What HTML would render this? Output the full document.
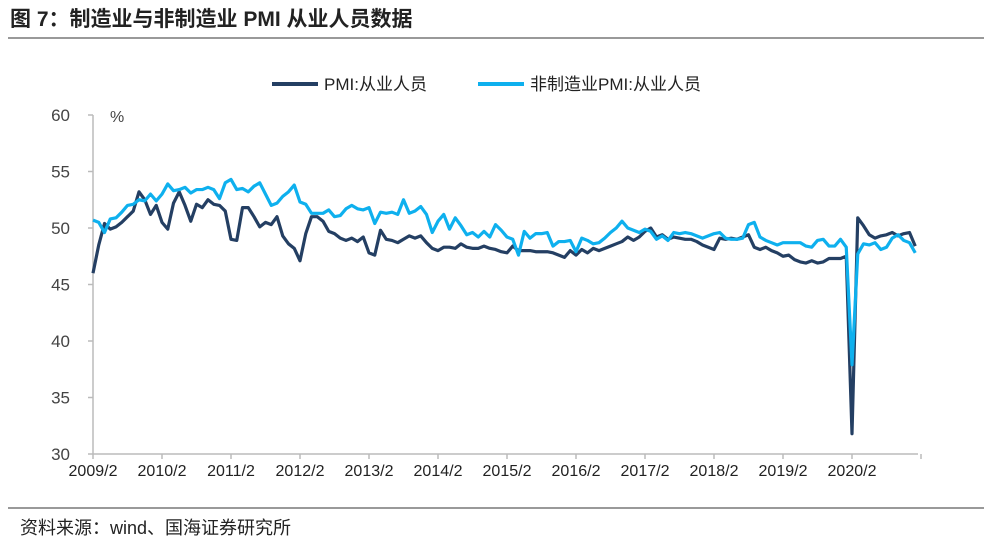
<!DOCTYPE html>
<html><head><meta charset="utf-8"><style>
body{margin:0;background:#fff;width:994px;height:543px;overflow:hidden;font-family:"Liberation Sans","Noto Sans CJK SC",sans-serif}
</style></head><body>
<svg width="994" height="543" xmlns="http://www.w3.org/2000/svg">
<text x="10" y="26" font-size="21" font-weight="bold" fill="#222" font-family="Liberation Sans,Noto Sans CJK SC,sans-serif">图 7：制造业与非制造业 PMI 从业人员数据</text>
<line x1="8" y1="38" x2="984" y2="38" stroke="#333" stroke-width="1"/>
<line x1="8" y1="508" x2="984" y2="508" stroke="#333" stroke-width="1"/>
<text x="20" y="534" font-size="18" fill="#222">资料来源：wind、国海证券研究所</text>
<g>
<line x1="272" y1="84" x2="318" y2="84" stroke="#243f63" stroke-width="4"/>
<text x="324" y="90" font-size="17" fill="#222">PMI:从业人员</text>
<line x1="478" y1="84" x2="524" y2="84" stroke="#0eb0ee" stroke-width="4"/>
<text x="530" y="90" font-size="17" fill="#222">非制造业PMI:从业人员</text>
</g>
<text x="110" y="122" font-size="16" fill="#444">%</text>
<g id="axes"></g>
<g id="series"></g>
</svg>
<script>
const yTicks=[30,35,40,45,50,55,60];
const xLabels=["2009/2","2010/2","2011/2","2012/2","2013/2","2014/2","2015/2","2016/2","2017/2","2018/2","2019/2","2020/2"];
const manufacturing=[46.0,48.5,50.4,49.9,50.1,50.5,51.0,51.5,53.2,52.5,51.2,52.0,
50.5,49.9,52.2,53.2,52.0,50.6,52.1,51.8,52.5,52.1,52.0,51.5,
49.0,48.9,51.8,51.8,51.0,50.1,50.5,50.3,51.0,49.3,48.6,48.2,
47.1,49.5,51.0,51.0,50.6,49.7,49.5,49.1,48.9,49.1,48.8,49.2,
47.8,47.6,49.8,49.0,48.9,48.7,49.0,49.3,49.1,49.3,48.7,48.2,
48.0,48.3,48.3,48.2,48.6,48.3,48.2,48.2,48.4,48.2,48.1,47.9,
47.8,48.4,48.0,48.0,48.0,47.9,47.9,47.9,47.8,47.6,47.4,48.0,
47.6,48.1,47.8,48.2,48.0,48.2,48.4,48.6,48.8,49.2,48.9,49.2,
49.7,50.0,49.2,49.4,49.0,49.2,49.1,49.0,49.0,48.8,48.5,48.3,
48.1,49.1,49.0,49.1,49.0,49.2,49.4,48.3,48.1,48.3,48.0,47.8,
47.5,47.6,47.2,47.0,46.9,47.1,46.9,47.0,47.3,47.3,47.3,47.5,
31.8,50.9,50.2,49.4,49.1,49.3,49.4,49.6,49.3,49.5,49.6,48.4];
const nonManufacturing=[50.7,50.5,49.6,50.8,50.9,51.4,52.0,52.1,52.5,52.4,53.0,52.4,
53.0,53.9,53.3,53.4,53.6,53.1,53.4,53.4,53.6,53.4,52.6,54.0,
54.3,53.4,53.5,53.2,53.7,54.0,53.0,52.0,52.2,52.8,53.2,53.8,
52.3,52.1,51.3,51.3,51.3,51.6,51.0,51.1,51.7,52.0,51.7,51.6,
51.8,50.4,51.4,51.3,51.4,51.2,52.5,51.3,51.5,51.9,51.2,49.6,
50.6,51.2,49.9,50.9,50.2,49.4,49.6,49.2,49.7,49.2,50.3,49.8,
49.2,49.0,47.6,49.7,49.1,49.5,49.5,49.6,48.4,48.8,48.8,48.9,
47.9,49.1,48.9,48.6,48.7,49.1,49.6,50.0,50.6,50.0,49.8,49.6,
49.9,49.7,49.0,49.3,48.9,49.6,49.5,49.6,49.5,49.3,49.1,49.3,
49.5,49.6,49.1,49.0,49.0,49.1,50.3,50.5,49.2,48.9,48.7,48.5,
48.7,48.7,48.7,48.7,48.4,48.3,48.9,49.0,48.4,48.4,49.0,48.3,
37.9,47.7,48.6,48.5,48.7,48.1,48.3,49.1,49.4,48.9,48.7,47.8];
const NS="http://www.w3.org/2000/svg";
const X0=93,DX=5.75,Y0=454,PY=11.3;
function xs(i){return X0+i*DX;}
function ys(v){return Y0-(v-30)*PY;}
const axes=document.getElementById('axes'),series=document.getElementById('series');
function mk(tag,attrs,parent){const e=document.createElementNS(NS,tag);for(const k in attrs)e.setAttribute(k,attrs[k]);parent.appendChild(e);return e;}
let l=mk('line',{x1:X0,y1:ys(60),x2:X0,y2:Y0,stroke:'#bbb','stroke-width':1.5},axes);


l=mk('line',{x1:X0,y1:Y0,x2:918,y2:Y0,stroke:'#bbb','stroke-width':1.5},axes);


yTicks.forEach(v=>{
 const t=mk('line',{x1:X0-5,y1:ys(v),x2:X0,y2:ys(v),stroke:'#bbb','stroke-width':1.5},axes);
 
 
 const tx=mk('text',{x:70,y:ys(v)+6,'font-size':17,fill:'#444','text-anchor':'end'},axes);
 tx.textContent=v;
 
 
});
for(let i=0;i<=manufacturing.length;i+=12){
 const t=mk('line',{x1:xs(i),y1:Y0,x2:xs(i),y2:Y0+5,stroke:'#bbb','stroke-width':1.5},axes);
 
 
}
xLabels.forEach((s,k)=>{
 const tx=mk('text',{x:xs(k*12),y:Y0+22,'font-size':16,fill:'#222','text-anchor':'middle'},axes);
 tx.textContent=s;
 
 
});
function line(data,color,name){
 const p=mk('polyline',{points:data.map((v,i)=>xs(i)+','+ys(v)).join(' '),fill:'none',stroke:color,'stroke-width':3.2,'stroke-linejoin':'round'},series);
 
 
}
line(manufacturing,'#243f63','line-manufacturing');
line(nonManufacturing,'#0eb0ee','line-non-manufacturing');
</script>
</body></html>
